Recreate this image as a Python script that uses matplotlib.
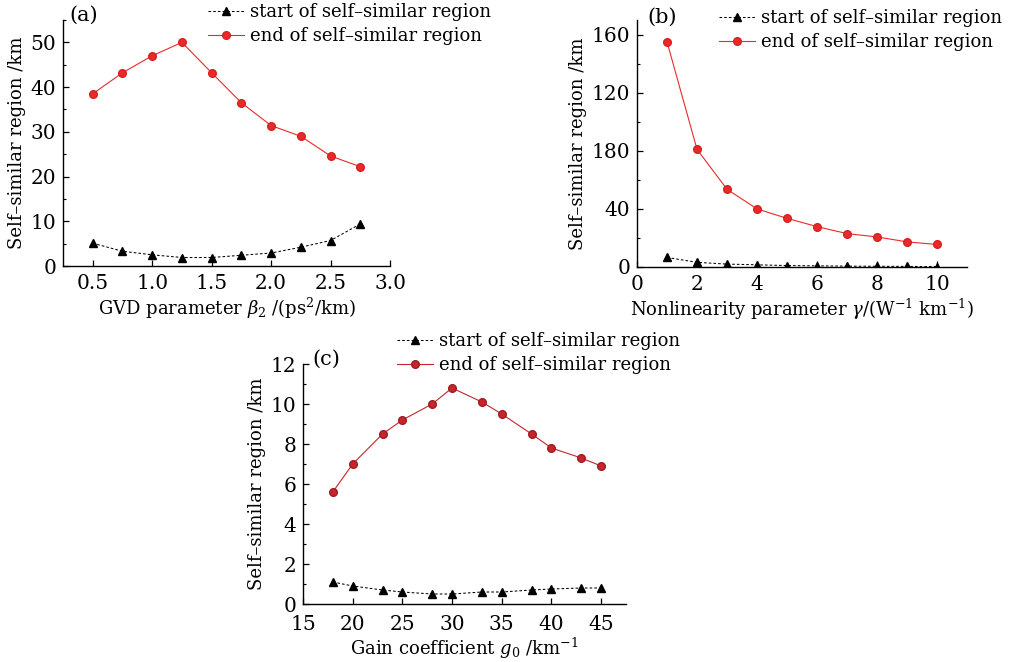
import matplotlib
matplotlib.use("Agg")
import matplotlib.pyplot as plt
from matplotlib.ticker import MultipleLocator, FixedLocator, FixedFormatter

plt.rcParams['font.family'] = ['DejaVu Serif']
plt.rcParams['mathtext.fontset'] = 'dejavuserif'
plt.rcParams['font.size'] = 13

# Panel (a): GVD parameter
a_x = [0.5, 0.75, 1.0, 1.25, 1.5, 1.75, 2.0, 2.25, 2.5, 2.75]
a_start = [5.1, 3.3, 2.5, 1.9, 1.9, 2.4, 2.9, 4.2, 5.7, 9.4]
a_end = [38.5, 43.2, 47.0, 50.0, 43.2, 36.5, 31.4, 29.0, 24.6, 22.2]

# Panel (b): nonlinearity parameter
b_x = [1, 2, 3, 4, 5, 6, 7, 8, 9, 10]
b_start = [6.6, 3.2, 2.0, 1.5, 1.0, 0.8, 0.6, 0.5, 0.4, 0.3]
b_end = [155.0, 81.0, 53.5, 40.0, 33.5, 27.8, 23.0, 20.7, 17.3, 15.5]
b_yticks = [0, 40, 80, 120, 160]
b_yticklabels = ["0", "40", "180", "120", "160"]

# Panel (c): gain coefficient
c_x = [18, 20, 23, 25, 28, 30, 33, 35, 38, 40, 43, 45]
c_start = [1.1, 0.9, 0.7, 0.6, 0.5, 0.5, 0.6, 0.6, 0.7, 0.75, 0.8, 0.8]
c_end = [5.6, 7.0, 8.5, 9.2, 10.0, 10.8, 10.1, 9.5, 8.5, 7.8, 7.3, 6.9]

W, H = 1015, 662
fig = plt.figure(figsize=(W / 100, H / 100), dpi=100)

def box(l, r, t, b):
    return [l / W, 1 - b / H, (r - l) / W, (b - t) / H]

def style(ax, xpad=6):
    for s in ['top', 'right']:
        ax.spines[s].set_visible(False)
    for s in ['left', 'bottom']:
        ax.spines[s].set_linewidth(1.0)
    ax.tick_params(direction='in', length=4, width=0.9, pad=5, labelsize=14.5)
    ax.tick_params(axis='x', pad=xpad)
    ax.tick_params(which='minor', direction='in', length=2.5, width=0.8)

def draw(ax, x, s, e, red, redge, lx, ly):
    ax.plot(x, s, linestyle=(0, (2.5, 2)), color='black', lw=0.75,
            marker='^', ms=5.5, mfc='black', mec='black',
            label='start of self\u2013similar region')
    ax.plot(x, e, linestyle='-', color=red, lw=0.8,
            marker='o', ms=5.5, mfc=red, mec=redge,
            label='end of self\u2013similar region')
    ax.legend(loc='upper left', bbox_to_anchor=(lx / W, 1 - ly / H),
              bbox_transform=fig.transFigure, frameon=False,
              borderaxespad=0, borderpad=0, handlelength=2.0,
              handletextpad=0.35, labelspacing=0.35, fontsize=13)

ylab = 'Self\u2013similar region /km'
lab_fs = 13

# (a)
ax1 = fig.add_axes(box(63, 390, 20, 266))
draw(ax1, a_x, a_start, a_end, '#ea2a2a', '#d82020', 208, 3)
ax1.set_xlim(0.25, 3.0)
ax1.set_ylim(0, 55)
ax1.xaxis.set_major_locator(MultipleLocator(0.5))
ax1.yaxis.set_major_locator(MultipleLocator(10))
ax1.yaxis.set_minor_locator(MultipleLocator(5))
ax1.xaxis.set_major_formatter(plt.FormatStrFormatter('%.1f'))
style(ax1)
ax1.set_xlabel(r'GVD parameter $\beta_2$ /(ps$^2$/km)', labelpad=2, fontsize=lab_fs)
ax1.set_ylabel(ylab, labelpad=3, fontsize=lab_fs)
fig.text(69 / W, 1 - 15 / H, '(a)', ha='left', va='center', fontsize=15)

# (b)
ax2 = fig.add_axes(box(637, 967, 20, 267))
draw(ax2, b_x, b_start, b_end, '#ea2a2a', '#d82020', 719, 9)
ax2.set_xlim(0, 11)
ax2.set_ylim(0, 170)
ax2.xaxis.set_major_locator(MultipleLocator(2))
ax2.yaxis.set_major_locator(FixedLocator(b_yticks))
ax2.yaxis.set_major_formatter(FixedFormatter(b_yticklabels))
ax2.yaxis.set_minor_locator(MultipleLocator(20))
style(ax2)
ax2.set_xlabel(r'Nonlinearity parameter $\gamma$/(W$^{-1}$ km$^{-1}$)', labelpad=2, fontsize=lab_fs)
ax2.set_ylabel(ylab, labelpad=3, fontsize=lab_fs)
fig.text(647 / W, 1 - 17 / H, '(b)', ha='left', va='center', fontsize=15)

# (c)
ax3 = fig.add_axes(box(303, 626, 364, 604))
draw(ax3, c_x, c_start, c_end, '#c4262c', '#a01c22', 397, 332)
ax3.set_xlim(15, 47.5)
ax3.set_ylim(0, 12)
ax3.xaxis.set_major_locator(MultipleLocator(5))
ax3.yaxis.set_major_locator(MultipleLocator(2))
ax3.yaxis.set_minor_locator(MultipleLocator(1))
style(ax3, xpad=8)
ax3.set_xlabel(r'Gain coefficient $g_0$ /km$^{-1}$', labelpad=1, fontsize=lab_fs)
ax3.set_ylabel(ylab, labelpad=3, fontsize=lab_fs)
fig.text(312 / W, 1 - 359 / H, '(c)', ha='left', va='center', fontsize=15)

fig.savefig('out.png', dpi=100)
